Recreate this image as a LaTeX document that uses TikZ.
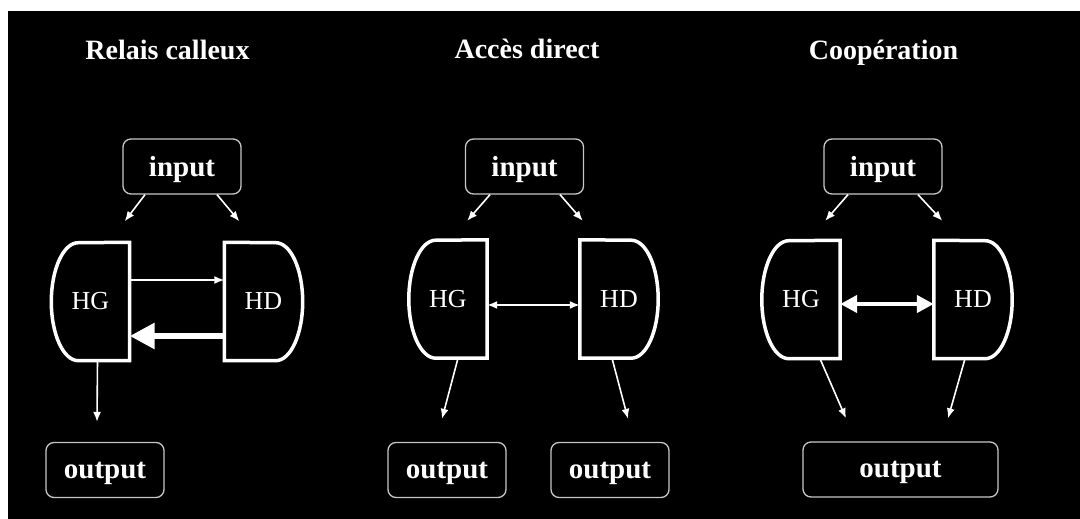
\documentclass[tikz,border=0pt]{standalone}
\usepackage{fontspec}
\setmainfont{Liberation Serif}
\usetikzlibrary{arrows.meta}
\tikzset{
  box/.style={draw=white!78!black,line width=1.3pt,rounded corners=8pt,minimum width=118pt,minimum height=55pt,text depth=0pt,text=white,font=\bfseries\fontsize{29}{34}\selectfont},
  hemi/.style={minimum width=78pt,minimum height=118pt,inner sep=0pt,text=white,font=\fontsize{26}{30}\selectfont},
  rim/.style={draw=white,line width=3.5pt},
  arr/.style={draw=white,line width=1.6pt,-{Latex[length=10pt,width=8pt]}},
  dbl/.style={draw=white,line width=1.6pt,{Latex[length=10pt,width=8pt]}-{Latex[length=10pt,width=8pt]}},
  fat/.style={draw=white,line width=6pt,-{Triangle[length=25pt,width=25pt]}},
  fatdbl/.style={draw=white,line width=4.5pt,{Triangle[length=17pt,width=17pt]}-{Triangle[length=17pt,width=17pt]}},
  title/.style={text=white,anchor=base,font=\bfseries\fontsize{28}{34}\selectfont}
}
\begin{document}
\begin{tikzpicture}[x=1pt,y=-1pt]
\useasboundingbox (0,0) rectangle (1080,519);
\fill[white] (0,0) rectangle (1080,519);
\fill[black] (8,11) rectangle (1080,519);

% titles
\node[title] (t1) at (167.5,60) {Relais calleux};
\node[title] (t2) at (527,59) {Accès direct};
\node[title] (t3) at (883.5,60) {Coopération};

% relais calleux
\node[box] (in1) at (182,166.5) {input};
\node[hemi] (hg1) at (90.5,301.5) {HG};
\node[hemi] (hd1) at (263.5,301.5) {HD};
\node[box] (out1) at (105,470) {output};
\draw[rim] (hg1.north east) -- (hg1.south east) -- ([xshift=27pt]hg1.south west) arc[start angle=90,end angle=270,x radius=27,y radius=59] -- cycle;
\draw[rim] (hd1.north west) -- (hd1.south west) -- ([xshift=-27pt]hd1.south east) arc[start angle=90,end angle=-90,x radius=27,y radius=59] -- cycle;
\draw[arr] ([xshift=-37pt]in1.south) -- ([xshift=-5pt,yshift=21pt]hg1.north east);
\draw[arr] ([xshift=35pt]in1.south) -- ([xshift=15pt,yshift=21pt]hd1.north west);
\draw[arr] ([yshift=21.5pt]hg1.east) -- ([yshift=21.5pt]hd1.west);
\draw[fat] ([yshift=-34.5pt]hd1.west) -- ([yshift=-34.5pt]hg1.east);
\draw[arr] ([xshift=7pt]hg1.south) -- ([xshift=-8pt,yshift=20pt]out1.north);

% acces direct
\node[box] (in2) at (524.5,166.5) {input};
\node[hemi] (hg2) at (448,299) {HG};
\node[hemi] (hd2) at (619,299) {HD};
\node[box] (out2a) at (447,470) {output};
\node[box] (out2b) at (610,470) {output};
\draw[rim] (hg2.north east) -- (hg2.south east) -- ([xshift=27pt]hg2.south west) arc[start angle=90,end angle=270,x radius=27,y radius=59] -- cycle;
\draw[rim] (hd2.north west) -- (hd2.south west) -- ([xshift=-27pt]hd2.south east) arc[start angle=90,end angle=-90,x radius=27,y radius=59] -- cycle;
\draw[arr] ([xshift=-34.5pt]in2.south) -- ([xshift=-20pt,yshift=19pt]hg2.north east);
\draw[arr] ([xshift=35.5pt]in2.south) -- ([xshift=3pt,yshift=19pt]hd2.north west);
\draw[dbl] ([yshift=-6pt]hg2.east) -- ([yshift=-6pt]hd2.west);
\draw[arr] ([xshift=10pt]hg2.south) -- ([xshift=-5pt,yshift=23pt]out2a.north);
\draw[arr] ([xshift=-7pt]hd2.south) -- ([xshift=18pt,yshift=23pt]out2b.north);

% cooperation
\node[box] (in3) at (883,166.5) {input};
\node[hemi] (hg3) at (801,299.5) {HG};
\node[hemi] (hd3) at (973,299.5) {HD};
\node[box,minimum width=195pt] (out3) at (900.5,469.5) {output};
\draw[rim] (hg3.north east) -- (hg3.south east) -- ([xshift=27pt]hg3.south west) arc[start angle=90,end angle=270,x radius=27,y radius=59] -- cycle;
\draw[rim] (hd3.north west) -- (hd3.south west) -- ([xshift=-27pt]hd3.south east) arc[start angle=90,end angle=-90,x radius=27,y radius=59] -- cycle;
\draw[arr] ([xshift=-35pt]in3.south) -- ([xshift=-15pt,yshift=19.5pt]hg3.north east);
\draw[arr] ([xshift=35pt]in3.south) -- ([xshift=8.5pt,yshift=19.5pt]hd3.north west);
\draw[fatdbl] ([yshift=-4.5pt]hg3.east) -- ([yshift=-4.5pt]hd3.west);
\draw[arr] ([xshift=19pt]hg3.south) -- ([xshift=-54.5pt,yshift=23pt]out3.north);
\draw[arr] ([xshift=-8pt]hd3.south) -- ([xshift=47.5pt,yshift=23pt]out3.north);
\end{tikzpicture}
\end{document}
